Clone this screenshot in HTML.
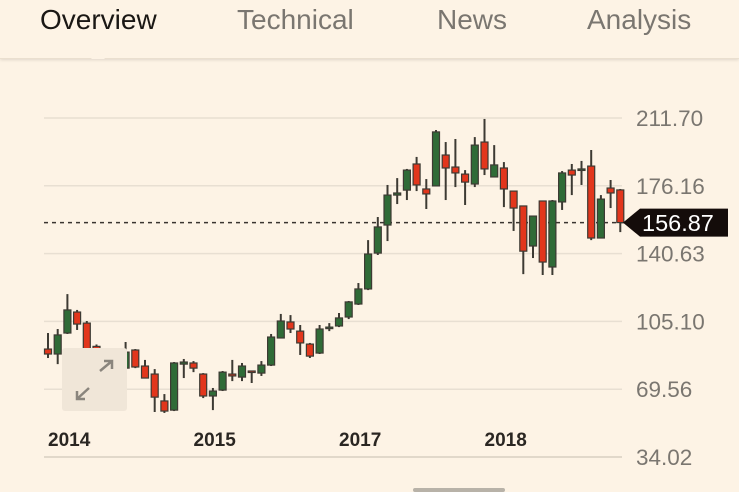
<!DOCTYPE html>
<html><head><meta charset="utf-8"><style>
html,body{margin:0;padding:0;background:#fdf3e5;width:739px;height:492px;overflow:hidden;font-family:"Liberation Sans",sans-serif}
.hdr{position:absolute;left:0;top:0;width:739px;height:58px;background:#fdf3e5;box-shadow:0 1px 3px rgba(0,0,0,0.12);border-bottom:1px solid #eadfcf}
.tab{position:absolute;top:4px;font-size:28px;color:#7a7670}
</style></head><body>
<div class="hdr">
<div class="tab" style="left:40px;color:#1a1714">Overview</div>
<div class="tab" style="left:237px">Technical</div>
<div class="tab" style="left:437px">News</div>
<div class="tab" style="left:587px">Analysis</div>
</div>
<svg id="chart" width="739" height="492" style="position:absolute;left:0;top:0"></svg>
<script>
const opens=[90.6,88.0,99.0,110.0,104.2,92,86,82,80.6,90.1,81.7,77.5,63.4,58.6,82.7,83.3,77.5,66.0,69.1,77.5,75.9,79.1,78.0,82.2,96.4,104.8,100.0,93.2,88.5,101.6,102.7,107.4,114.2,122.1,140.9,155.6,171.3,173.9,187.6,174.5,176.1,192.3,186.0,182.3,177.1,199.1,180.8,185.5,173.4,165.6,144.6,168.2,133.6,167.7,184.4,184.4,186.5,148.8,175.0,174.0];
const highs=[99.0,101.1,119.4,111.1,105.3,93,87,89,94.3,90.6,84.9,80.1,67.0,83.8,85.4,84.3,78.0,70.2,79.1,84.9,83.3,79.1,84.3,98.5,109.0,108.4,103.2,93.8,103.2,104.2,109.5,115.8,125.2,147.7,159.8,176.6,180.2,185.0,191.3,179.7,205.4,199.1,200.7,184.4,201.7,211.2,197.5,188.6,173.4,165.6,160.3,168.2,168.7,183.9,187.6,189.2,194.9,171.3,179.2,174.5];
const lows=[85.9,82.7,98.5,100.6,87.5,84,81,80,80.1,80.6,75.2,57.6,57.1,58.1,75.4,78.5,64.9,58.6,68.6,73.8,73.8,72.8,76.5,81.7,96.4,99.0,87.5,85.9,88.0,100.0,102.1,106.3,113.7,121.5,139.9,147.2,166.6,168.7,173.4,164.0,176.1,168.7,175.5,166.1,175.5,181.8,180.8,165.0,152.5,129.9,138.3,129.4,129.4,163.5,171.3,176.6,147.7,148.8,164.5,151.9];
const closes=[88.0,98.0,111.1,103.7,90.1,85,82,88,89.0,81.2,75.4,65.4,58.1,83.3,83.8,80.6,66.0,68.6,78.5,76.5,81.7,78.5,82.2,96.9,105.3,101.1,93.8,86.9,101.1,102.1,106.9,115.3,122.1,140.4,154.6,171.3,172.4,184.4,176.6,171.9,204.4,185.5,182.9,178.1,197.5,185.0,187.1,174.5,164.5,141.9,160.3,136.2,168.2,182.9,181.8,185.0,148.8,169.2,172.4,156.9];
const yTicks=[211.70,176.16,140.63,105.10,69.56,34.02];
const xLabels=["2014","2015","2017","2018"];
const xLabelIdx=[0,15,30,45];
const lastPrice=156.87;

const svg=document.getElementById('chart');
const NS='http://www.w3.org/2000/svg';
const y=v=>118+(211.70-v)*(339/177.68);
const x=i=>48+i*9.7;
function mk(t,a){const e=document.createElementNS(NS,t);for(const k in a)e.setAttribute(k,a[k]);svg.appendChild(e);return e;}
yTicks.forEach((t,i)=>{
 const l=mk('line',{x1:44,x2:622,y1:y(t),y2:y(t),stroke:i==yTicks.length-1?'#d8cfc2':'#e8dfd2','stroke-width':1.5});
 
 
 const tx=mk('text',{x:636,y:y(t)+8,'font-size':22.5,fill:'#7a7670','font-family':'Liberation Sans, sans-serif'});
 tx.textContent=t.toFixed(2);
 
 
});
xLabels.forEach((s,i)=>{
 const tx=mk('text',{x:x(xLabelIdx[i]),y:446,'font-size':19,'font-weight':'bold',fill:'#2a2622','font-family':'Liberation Sans, sans-serif'});
 tx.textContent=s;
 
 
});
const pl=mk('line',{x1:44,x2:624,y1:y(lastPrice),y2:y(lastPrice),stroke:'#3a3530','stroke-width':1.5,'stroke-dasharray':'4,4'});


for(let i=0;i<opens.length;i++){
 const up=closes[i]>=opens[i];
 const g=document.createElementNS(NS,'g');svg.appendChild(g);
 
 
 const cx=x(i);
 const w=document.createElementNS(NS,'line');
 w.setAttribute('x1',cx);w.setAttribute('x2',cx);w.setAttribute('y1',y(highs[i]));w.setAttribute('y2',y(lows[i]));
 w.setAttribute('stroke','#3d3a33');w.setAttribute('stroke-width',2);g.appendChild(w);
 const top=y(Math.max(opens[i],closes[i])),bot=y(Math.min(opens[i],closes[i]));
 const r=document.createElementNS(NS,'rect');
 r.setAttribute('x',cx-3.5);r.setAttribute('y',top);r.setAttribute('width',7);r.setAttribute('height',Math.max(1.5,bot-top));
 r.setAttribute('fill',up?'#2f6b37':'#e2361c');r.setAttribute('stroke','#3d3a33');r.setAttribute('stroke-width',1.2);g.appendChild(r);
}
const tag=mk('path',{d:`M623 ${y(lastPrice)} L640 ${y(lastPrice)-14} L728 ${y(lastPrice)-14} L728 ${y(lastPrice)+14} L640 ${y(lastPrice)+14} Z`,fill:'#140c0a'});


const tt=mk('text',{x:642,y:y(lastPrice)+8.5,'font-size':23.5,fill:'#ffffff','font-family':'Liberation Sans, sans-serif'});
tt.textContent=lastPrice.toFixed(2);


</script>
<div style="position:absolute;left:62px;top:348px;width:65px;height:63px;background:#f0e6d8;border-radius:3px">
<svg width="65" height="63"><g stroke="#8a857d" stroke-width="2.5" fill="none"><path d="M27 40 L15 51 M15 43 L15 51 L23 51"/><path d="M38 23 L50 13 M42 13 L50 13 L50 21"/></g></svg>
</div>
<div style="position:absolute;left:91px;top:51px;width:0;height:0;border-left:7px solid transparent;border-right:7px solid transparent;border-bottom:8px solid #fdf3e5"></div>
<div style="position:absolute;left:413px;top:488px;width:92px;height:4px;background:#b8b2a8;border-radius:2px"></div>
</body></html>
